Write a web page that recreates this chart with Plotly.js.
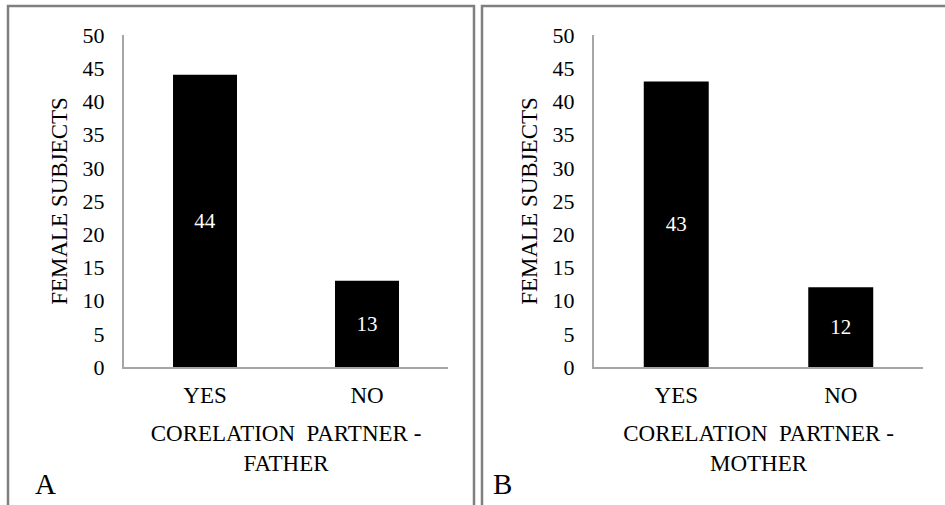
<!DOCTYPE html>
<html>
<head>
<meta charset="utf-8">
<script src="https://cdn.plot.ly/plotly-3.0.1.min.js"></script>
</head>
<body style="margin:0;background:#ffffff">
<div id="chart" style="width:945px;height:505px"></div>
<script>
const categories = ["YES", "NO"];
const fatherValues = [44, 13];
const motherValues = [43, 12];
const yTicks = [0, 5, 10, 15, 20, 25, 30, 35, 40, 45, 50];
const yTitle = "FEMALE SUBJECTS";
const xTitleFather = "CORELATION&nbsp;&nbsp;PARTNER -<br>FATHER";
const xTitleMother = "CORELATION&nbsp;&nbsp;PARTNER -<br>MOTHER";
const panelLabels = ["A", "B"];

const W = 945, H = 505;
const px = v => v / W;
const py = v => 1 - v / H;
const fam = "Liberation Serif";

function barTrace(vals, xa, ya) {
  return {
    type: "bar", x: categories, y: vals, xaxis: xa, yaxis: ya,
    marker: {color: "#000000"},
    text: vals.map(String), textposition: "inside", insidetextanchor: "middle",
    textfont: {family: fam, size: 21, color: "#ffffff"}
  };
}
function yAxis(anchor) {
  return {
    anchor: anchor, domain: [py(367), py(35)], range: [0, 50], tickvals: yTicks,
    showgrid: false, zeroline: false, showline: true, linecolor: "#a6a6a6", linewidth: 2,
    ticks: "outside", ticklen: 13, tickcolor: "rgba(0,0,0,0)",
    tickfont: {family: fam, size: 22, color: "#000000"},
    title: {text: yTitle, font: {family: fam, size: 23, color: "#000000"}, standoff: 9}
  };
}
function xAxis(d0, d1, anchor, title) {
  return {
    anchor: anchor, domain: [px(d0), px(d1)],
    showgrid: false, zeroline: false, showline: true, linecolor: "#a6a6a6", linewidth: 2,
    ticks: "outside", ticklen: 6, tickcolor: "rgba(0,0,0,0)",
    tickfont: {family: fam, size: 23, color: "#000000"},
    title: {text: title, font: {family: fam, size: 23, color: "#000000"}, standoff: 18}
  };
}

const data = [
  barTrace(fatherValues, "x", "y"),
  barTrace(motherValues, "x2", "y2")
];

const layout = {
  width: W, height: H, showlegend: false,
  margin: {l: 0, r: 0, t: 0, b: 0},
  bargap: 0.605,
  xaxis: xAxis(124, 448, "y", xTitleFather),
  yaxis: yAxis("x"),
  xaxis2: xAxis(594, 923, "y2", xTitleMother),
  yaxis2: yAxis("x2"),
  shapes: [
    {type: "rect", xref: "paper", yref: "paper", x0: px(8), x1: px(474), y0: py(512), y1: py(6),
     line: {color: "#7f7f7f", width: 2.5}},
    {type: "rect", xref: "paper", yref: "paper", x0: px(482), x1: px(960), y0: py(512), y1: py(6),
     line: {color: "#7f7f7f", width: 2.5}}
  ],
  annotations: [
    {text: panelLabels[0], xref: "paper", yref: "paper", x: px(33), y: py(502), showarrow: false,
     font: {family: fam, size: 29, color: "#000000"}},
    {text: panelLabels[1], xref: "paper", yref: "paper", x: px(503), y: py(502), showarrow: false,
     font: {family: fam, size: 29, color: "#000000"}}
  ]
};

Plotly.newPlot("chart", data, layout, {displayModeBar: false});
</script>
</body>
</html>
